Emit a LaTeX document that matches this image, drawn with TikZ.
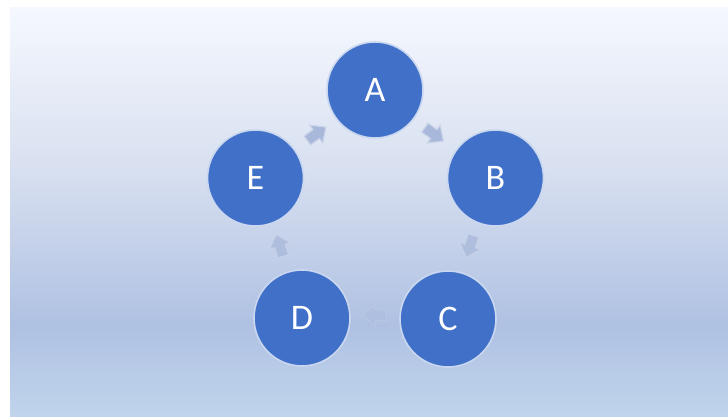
\documentclass[tikz,border=0pt]{standalone}
\usepackage{fontspec}
\setmainfont{Carlito}
\usetikzlibrary{calc}
\definecolor{bgtop}{HTML}{F5F8FE}
\definecolor{bgmid}{HTML}{D8E0F0}
\definecolor{bglow}{HTML}{AFC1E2}
\definecolor{bgbot}{HTML}{C0D4EC}
\definecolor{nodeblue}{HTML}{4170C8}
\definecolor{glow}{HTML}{C9D7F0}
\definecolor{arrowcol}{HTML}{A8B8DA}
\tikzset{
  cyclenode/.style={circle, minimum size=96pt, inner sep=0pt, fill=nodeblue,
    draw=glow, line width=1.6pt, text=white, font=\fontsize{36}{40}\selectfont},
  blockarrow/.style={fill=arrowcol, draw=arrowcol!60!white, line width=1.2pt, fill opacity=0.75, draw opacity=0.4}
}
\newcommand{\cyclearrow}[2]{%
  \begin{scope}[shift={($(O)+(#1:100)$)}, rotate=#1-90]
    \path[blockarrow, opacity=#2] (-11,-5.5) -- (0,-5.5) -- (0,-11) -- (12,0) -- (0,11) -- (0,5.5) -- (-11,5.5) -- cycle;
  \end{scope}}
\begin{document}
\begin{tikzpicture}[x=1pt,y=1pt]
  \useasboundingbox (0,0) rectangle (728,417);
  \fill[white] (0,0) rectangle (728,417);
  \shade[top color=bgtop, bottom color=bgmid] (10,249) rectangle (728,409);
  \shade[top color=bgmid, bottom color=bglow] (10,92) rectangle (728,249.5);
  \shade[top color=bglow, bottom color=bgbot] (10,0) rectangle (728,92.5);
  \coordinate (O) at (375,202);
  \cyclearrow{54}{1}
  \cyclearrow{-18}{0.75}
  \cyclearrow{-90}{0.3}
  \cyclearrow{198}{0.75}
  \cyclearrow{126}{1}
  \node[cyclenode] (A) at (375,327) {A};
  \node[cyclenode] (B) at (495.5,239) {B};
  \node[cyclenode] (C) at (448,98) {C};
  \node[cyclenode] (D) at (302,99) {D};
  \node[cyclenode] (E) at (255.5,239) {E};
\end{tikzpicture}
\end{document}
